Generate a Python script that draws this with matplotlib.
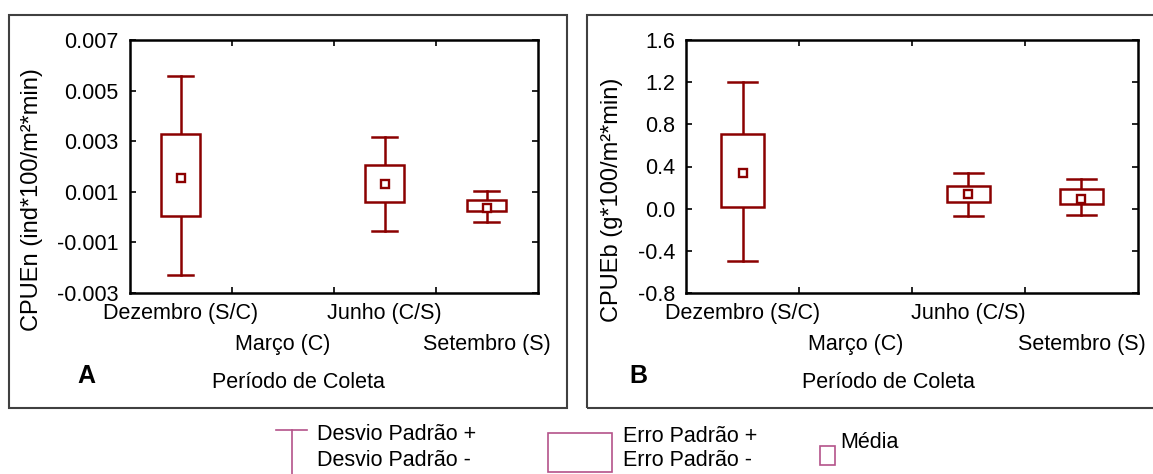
import numpy as np
import matplotlib
matplotlib.use('Agg')
import matplotlib.pyplot as plt
from matplotlib.patches import Rectangle
from matplotlib.lines import Line2D

plt.rcParams['font.family'] = ['Liberation Sans', 'DejaVu Sans']

Meses = ['Dezembro (S/C)', 'Março (C)', 'Junho (C/S)', 'Setembro (S)']

# CPUEn (A): media, erro padrao +/- e desvio padrao +/-  (Março sem dados)
A_media = [0.00156, np.nan, 0.00130, 0.00036]
A_ep_sup = [0.00329, np.nan, 0.00207, 0.00066]
A_ep_inf = [0.00004, np.nan, 0.00061, 0.00023]
A_dp_sup = [0.00557, np.nan, 0.00317, 0.00103]
A_dp_inf = [-0.00230, np.nan, -0.00055, -0.00019]
A_yticks = [-0.003, -0.001, 0.001, 0.003, 0.005, 0.007]
A_ytlab = ['-0.003', '-0.001', '0.001', '0.003', '0.005', '0.007']

# CPUEb (B)
B_media = [0.340, np.nan, 0.142, 0.095]
B_ep_sup = [0.708, np.nan, 0.215, 0.190]
B_ep_inf = [0.016, np.nan, 0.066, 0.041]
B_dp_sup = [1.200, np.nan, 0.340, 0.281]
B_dp_inf = [-0.497, np.nan, -0.067, -0.060]
B_yticks = [-0.8, -0.4, 0.0, 0.4, 0.8, 1.2, 1.6]
B_ytlab = ['-0.8', '-0.4', '0.0', '0.4', '0.8', '1.2', '1.6']

W, H = 1153, 474
cor = '#8b0000'
cor_leg = '#b4538a'
fs = 15.5

fig = plt.figure(figsize=(W/100, H/100), dpi=100)

def fx(px):
    return px / W

def fy(py):
    return 1 - py / H

def painel(rect, media, ep_sup, ep_inf, dp_sup, dp_inf, yticks, ytlab, ylabel, letra,
           ylab_x, letra_x, periodo_x):
    ax = fig.add_axes(rect)
    x = np.arange(len(Meses))
    for i in x:
        if np.isnan(media[i]):
            continue
        # desvio padrao
        ax.plot([i, i], [ep_sup[i], dp_sup[i]], color=cor, lw=1.8)
        ax.plot([i, i], [dp_inf[i], ep_inf[i]], color=cor, lw=1.8)
        ax.plot([i-0.125, i+0.125], [dp_sup[i], dp_sup[i]], color=cor, lw=1.8)
        ax.plot([i-0.125, i+0.125], [dp_inf[i], dp_inf[i]], color=cor, lw=1.8)
        # erro padrao
        ax.bar(i, ep_sup[i]-ep_inf[i], bottom=ep_inf[i], width=0.38,
               facecolor='white', edgecolor=cor, lw=1.8, zorder=3)
        # media
        ax.plot(i, media[i], 's', ms=6, mfc='white', mec=cor, mew=1.7, zorder=4)
    ax.set_xlim(-0.5, 3.5)
    ax.set_ylim(yticks[0], yticks[-1])
    ax.set_yticks(yticks)
    ax.set_yticklabels(ytlab, fontsize=fs)
    ax.set_xticks([0.5, 1.5, 2.5])
    ax.set_xticklabels([])
    ax.tick_params(direction='in', length=4, width=1.2, top=True, right=True, pad=8)
    for s in ax.spines.values():
        s.set_linewidth(1.8)
    tr = ax.get_xaxis_transform()
    for i, m in enumerate(Meses):
        yy = -0.08 if i % 2 == 0 else -0.203
        ax.text(i, yy, m, transform=tr, ha='center', va='center', fontsize=fs)
    fig.text(fx(ylab_x), fy(200), ylabel, rotation=90, ha='center', va='center', fontsize=17)
    fig.text(fx(letra_x), fy(376), letra, ha='center', va='center', fontsize=18, fontweight='bold')
    fig.text(fx(periodo_x), fy(382), 'Período de Coleta', ha='center', va='center', fontsize=fs)
    return ax

axA = painel([fx(129.6), fy(293), fx(408), 253/H], A_media, A_ep_sup, A_ep_inf, A_dp_sup, A_dp_inf,
             A_yticks, A_ytlab, 'CPUEn (ind*100/m²*min)', 'A', 32, 86, 298)
axB = painel([fx(686), fy(293), fx(452), 253/H], B_media, B_ep_sup, B_ep_inf, B_dp_sup, B_dp_inf,
             B_yticks, B_ytlab, 'CPUEb (g*100/m²*min)', 'B', 611.8, 638.5, 888)

# molduras dos paineis
for x0, x1 in [(9, 567), (587, 1165)]:
    fig.patches.append(Rectangle((fx(x0), fy(408)), fx(x1-x0), (408-15)/H, transform=fig.transFigure,
                                 fill=False, edgecolor='#404040', lw=1.5))

# legenda
fig.add_artist(Line2D([fx(276), fx(307)], [fy(430), fy(430)], color=cor_leg, lw=1.2))
fig.add_artist(Line2D([fx(292.3), fx(292.3)], [fy(430), fy(476)], color=cor_leg, lw=1.2))
fig.text(fx(316.7), fy(435), 'Desvio Padrão +', ha='left', va='center', fontsize=fs)
fig.text(fx(316.7), fy(460), 'Desvio Padrão -', ha='left', va='center', fontsize=fs)
fig.patches.append(Rectangle((fx(548.3), fy(472)), fx(63.4), (472-432.7)/H, transform=fig.transFigure,
                             fill=False, edgecolor=cor_leg, lw=1.2))
fig.text(fx(622.7), fy(436.7), 'Erro Padrão +', ha='left', va='center', fontsize=fs)
fig.text(fx(622.7), fy(460), 'Erro Padrão -', ha='left', va='center', fontsize=fs)
fig.patches.append(Rectangle((fx(820), fy(465)), fx(15), 19/H, transform=fig.transFigure,
                             fill=False, edgecolor=cor_leg, lw=1.2))
fig.text(fx(840), fy(443), 'Média', ha='left', va='center', fontsize=fs)

fig.savefig('out.png', dpi=100)
